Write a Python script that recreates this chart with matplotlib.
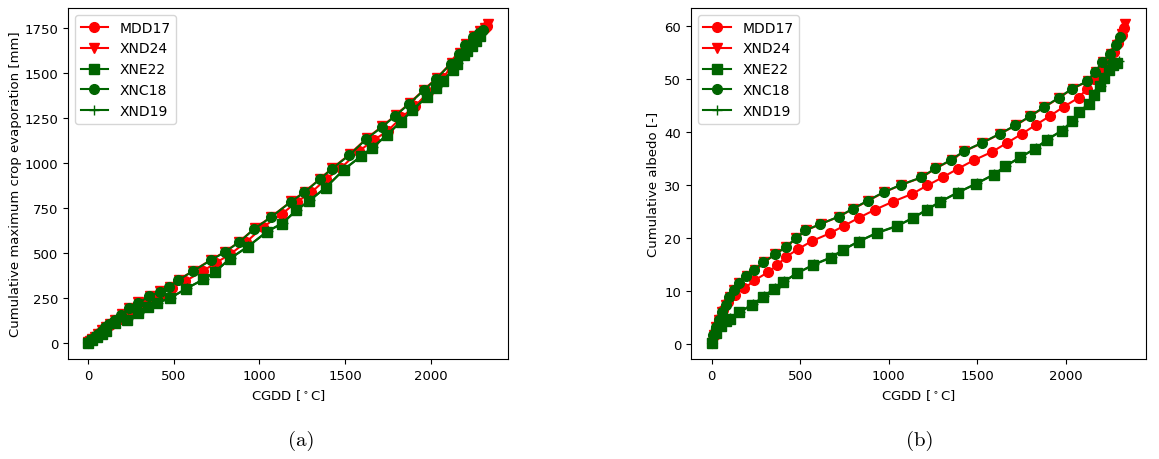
import matplotlib
matplotlib.use("Agg")
import matplotlib.pyplot as plt

# CGDD [°C] sampled per series, cumulative ET [mm] (panel a), cumulative albedo [-] (panel b)
mdd17_cgdd = [0, 20, 41, 66, 94, 130, 185, 241, 316, 371, 418, 488, 565, 669, 748, 831, 921, 1021, 1132,
              1218, 1303, 1388, 1478, 1582, 1667, 1751, 1830, 1911, 1987, 2071, 2119, 2156, 2200, 2241,
              2270, 2295, 2315, 2330]
mdd17_et = [0, 15, 35, 55, 75, 100, 135, 175, 215, 245, 270, 307, 343, 400, 447, 495, 560, 645, 718,
            785, 838, 910, 975, 1068, 1128, 1182, 1255, 1320, 1395, 1472, 1537, 1575, 1622, 1668,
            1700, 1728, 1750, 1765]
mdd17_alb = [0.3, 1.8, 4.7, 6.4, 8.0, 9.3, 10.5, 12.0, 13.5, 14.9, 16.4, 17.9, 19.4, 20.9, 22.3, 23.8,
             25.3, 26.8, 28.3, 29.9, 31.4, 33.0, 34.6, 36.2, 37.9, 39.6, 41.3, 43.0, 44.7, 46.4, 48.1,
             50.0, 51.5, 53.2, 55.0, 56.8, 58.3, 59.5]

xnd24_cgdd = [0, 11, 26, 43, 61, 81, 102, 127, 157, 197, 242, 294, 360, 420, 477, 530, 615, 718, 800,
              883, 973, 1071, 1186, 1265, 1355, 1425, 1528, 1628, 1717, 1798, 1877, 1962, 2037, 2122,
              2170, 2208, 2252, 2290, 2315, 2335]
xnd24_et = [5, 13, 23, 36, 52, 70, 90, 107, 130, 160, 197, 226, 262, 288, 313, 352, 403, 463, 508,
            563, 638, 703, 788, 842, 914, 972, 1050, 1140, 1205, 1270, 1335, 1410, 1476, 1560,
            1616, 1666, 1710, 1735, 1755, 1775]
xnd24_alb = [0.3, 1.8, 3.2, 4.6, 6.0, 7.4, 8.8, 10.2, 11.5, 12.8, 14.0, 15.4, 16.9, 18.3, 19.9, 21.4,
             22.6, 24.0, 25.5, 27.0, 28.6, 30.0, 31.4, 33.1, 34.7, 36.3, 37.9, 39.6, 41.2, 42.9, 44.6,
             46.4, 48.1, 49.5, 51.3, 53.1, 54.7, 56.3, 58.5, 60.3]

xne22_cgdd = [0, 23, 50, 80, 104, 156, 230, 292, 352, 405, 480, 574, 674, 740, 829, 932, 1045, 1134,
              1215, 1290, 1388, 1494, 1592, 1658, 1743, 1827, 1893, 1978, 2034, 2072, 2128, 2156, 2194,
              2213, 2241, 2265, 2290]
xne22_et = [0, 15, 32, 52, 68, 110, 130, 165, 198, 223, 250, 303, 354, 395, 470, 535, 620, 665, 738,
            790, 865, 965, 1038, 1085, 1155, 1232, 1295, 1368, 1420, 1455, 1520, 1552, 1600, 1625,
            1650, 1680, 1710]
xne22_alb = [0.2, 2.0, 3.4, 4.3, 4.8, 6.0, 7.4, 8.9, 10.4, 11.7, 13.3, 14.9, 16.3, 17.7, 19.3, 20.9,
             22.2, 23.7, 25.3, 26.8, 28.5, 30.2, 31.9, 33.5, 35.2, 36.8, 38.5, 40.2, 42.0, 43.7, 45.2,
             47.0, 48.6, 50.2, 51.7, 52.5, 53.0]

xnc18_cgdd = [0, 10, 25, 42, 60, 80, 100, 125, 155, 195, 240, 292, 358, 418, 475, 527, 612, 716, 797,
              880, 970, 1068, 1183, 1262, 1352, 1422, 1525, 1625, 1714, 1795, 1874, 1959, 2034, 2119,
              2166, 2203, 2247, 2284, 2307]
xnc18_et = [5, 12, 22, 35, 50, 68, 88, 105, 128, 158, 195, 223, 259, 285, 310, 350, 400, 460, 505,
            560, 635, 700, 785, 838, 910, 968, 1045, 1135, 1200, 1265, 1330, 1405, 1470, 1555,
            1610, 1660, 1705, 1725, 1740]
xnc18_alb = [0.3, 1.8, 3.2, 4.6, 6.0, 7.4, 8.8, 10.2, 11.5, 12.8, 14.0, 15.4, 16.9, 18.3, 19.9, 21.4,
             22.6, 24.0, 25.5, 27.0, 28.6, 30.0, 31.4, 33.1, 34.7, 36.3, 37.9, 39.6, 41.2, 42.9, 44.6,
             46.4, 48.1, 49.5, 51.3, 53.1, 54.7, 56.3, 57.8]

xnd19_cgdd = [0, 24, 52, 82, 106, 158, 232, 295, 355, 408, 483, 577, 677, 743, 832, 935, 1048, 1137,
              1218, 1293, 1391, 1497, 1595, 1661, 1746, 1830, 1896, 1981, 2037, 2075, 2131, 2159, 2197,
              2216, 2244, 2270, 2300]
xnd19_et = [0, 16, 33, 53, 69, 111, 131, 167, 200, 225, 252, 305, 356, 398, 472, 538, 622, 668, 740,
            793, 868, 968, 1040, 1088, 1158, 1235, 1298, 1372, 1424, 1460, 1524, 1556, 1604, 1630,
            1655, 1690, 1722]
xnd19_alb = [0.2, 2.0, 3.4, 4.3, 4.9, 6.1, 7.5, 9.0, 10.5, 11.8, 13.4, 15.0, 16.4, 17.8, 19.4, 21.0,
             22.3, 23.8, 25.4, 26.9, 28.6, 30.3, 32.0, 33.6, 35.3, 36.9, 38.6, 40.3, 42.1, 43.8, 45.3,
             47.1, 48.7, 50.3, 51.8, 52.7, 53.3]

SERIES = [
    ("MDD17", mdd17_cgdd, mdd17_et, mdd17_alb, "red", "o"),
    ("XND24", xnd24_cgdd, xnd24_et, xnd24_alb, "red", "v"),
    ("XNE22", xne22_cgdd, xne22_et, xne22_alb, "darkgreen", "s"),
    ("XNC18", xnc18_cgdd, xnc18_et, xnc18_alb, "darkgreen", "o"),
    ("XND19", xnd19_cgdd, xnd19_et, xnd19_alb, "darkgreen", "+"),
]

plt.rcParams["font.size"] = 9.5

fig = plt.figure(figsize=(11.59, 4.6), dpi=100)
ax_a = fig.add_axes([0.0587, 0.2174, 0.3796, 0.763])
ax_b = fig.add_axes([0.5962, 0.2174, 0.3926, 0.763])

for name, cgdd, et, alb, col, mk in SERIES:
    ax_a.plot(cgdd, et, color=col, marker=mk, markersize=7, linewidth=1.5, label=name)
    ax_b.plot(cgdd, alb, color=col, marker=mk, markersize=7, linewidth=1.5, label=name)

ax_a.set_xlabel(r"CGDD [$^\circ$C]")
ax_a.set_ylabel("Cumulative maximum crop evaporation [mm]", labelpad=2)
ax_b.set_xlabel(r"CGDD [$^\circ$C]")
ax_b.set_ylabel("Cumulative albedo [-]")
for ax in (ax_a, ax_b):
    ax.legend(loc="upper left", fontsize=10)

fig.text(0.26, 0.03, "(a)", family="cmr10", fontsize=15, ha="center")
fig.text(0.794, 0.03, "(b)", family="cmr10", fontsize=15, ha="center")

fig.savefig("out.png", dpi=100)
